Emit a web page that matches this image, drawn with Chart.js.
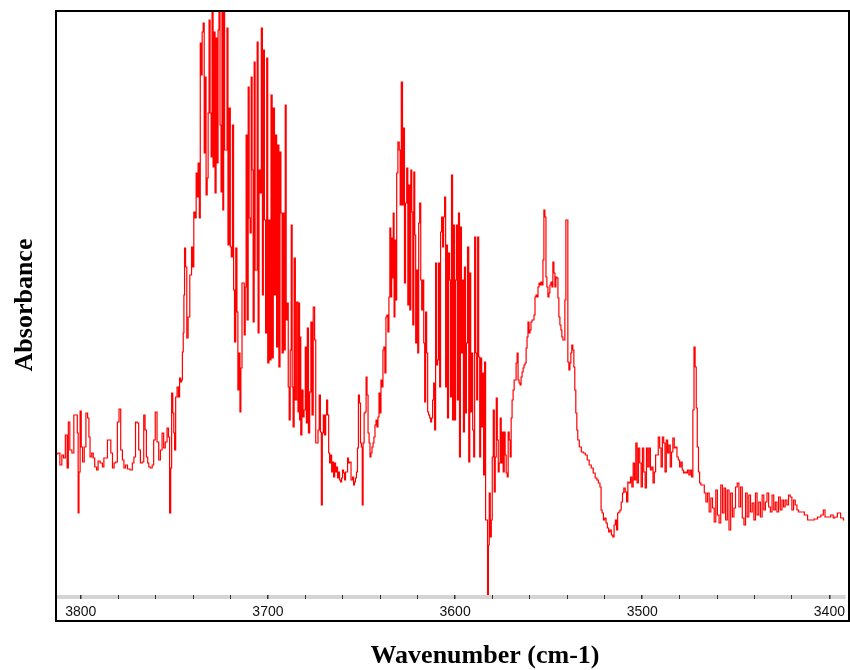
<!DOCTYPE html>
<html>
<head>
<meta charset="utf-8">
<script src="https://cdn.jsdelivr.net/npm/chart.js@4.4.1/dist/chart.umd.min.js"></script>
<style>
  html, body { margin: 0; padding: 0; background: #fff; }
  canvas { display: block; }
</style>
</head>
<body>
<canvas id="spectrum" width="850" height="670"></canvas>
<script>
// wavenumber (cm-1), high to low
const wavenumber = [
  3812.7,3811.7,3810.6,3809.6,3808.8,3807.7,3806.9,3806.4,3805.3,3804.2,
  3803.2,3802.1,3801.6,3801.2,3800.7,3800.0,3799.5,3798.6,3797.7,3796.8,
  3795.9,3795.4,3794.7,3793.6,3793.1,3792.0,3791.1,3790.4,3788.9,3788.0,
  3787.3,3786.2,3785.3,3784.4,3783.5,3782.6,3781.8,3780.9,3780.0,3779.1,
  3778.2,3777.3,3776.6,3775.6,3774.5,3772.9,3772.0,3771.2,3770.3,3769.4,
  3768.7,3767.6,3766.7,3766.0,3765.3,3764.6,3763.9,3763.4,3762.3,3761.4,
  3760.7,3759.7,3758.8,3757.9,3757.0,3756.1,3755.3,3754.4,3753.4,3752.9,
  3752.2,3751.7,3751.2,3750.5,3750.1,3749.6,3749.0,3748.1,3747.5,3746.9,
  3746.4,3745.9,3745.5,3745.0,3744.8,3744.3,3743.7,3743.0,3742.3,3741.2,
  3740.4,3739.9,3739.3,3738.6,3738.1,3737.6,3737.0,3736.3,3736.0,3735.4,
  3734.9,3734.3,3733.8,3733.4,3732.7,3732.2,3731.7,3731.2,3730.6,3730.1,
  3729.6,3729.0,3728.5,3728.0,3727.4,3726.9,3726.4,3725.9,3725.3,3724.8,
  3724.3,3723.9,3723.4,3722.9,3722.1,3721.6,3721.1,3720.4,3719.8,3719.3,
  3718.6,3718.1,3717.6,3716.8,3716.3,3715.8,3715.2,3714.7,3714.2,3713.5,
  3712.9,3712.4,3711.9,3711.4,3710.8,3710.3,3709.8,3709.2,3708.7,3708.2,
  3707.6,3707.1,3706.6,3706.0,3705.5,3705.0,3704.5,3703.9,3703.2,3702.7,
  3702.2,3701.6,3700.9,3700.4,3699.8,3699.1,3698.6,3698.1,3697.4,3696.9,
  3696.1,3695.6,3695.1,3694.5,3693.8,3693.3,3692.8,3692.1,3691.5,3691.0,
  3690.5,3690.0,3689.4,3688.9,3688.4,3687.8,3687.3,3686.8,3686.3,3685.7,
  3685.0,3684.3,3683.6,3683.2,3683.0,3682.7,3682.2,3681.5,3681.0,3680.4,
  3679.7,3679.2,3678.7,3678.0,3677.4,3676.7,3676.2,3675.4,3674.7,3674.2,
  3673.5,3673.0,3672.2,3671.7,3671.2,3670.7,3670.1,3669.4,3668.9,3668.4,
  3667.8,3667.3,3666.8,3666.2,3665.7,3665.2,3664.6,3664.1,3663.6,3663.1,
  3662.5,3662.0,3661.5,3660.9,3660.4,3659.9,3659.3,3658.8,3658.3,3657.7,
  3657.2,3656.7,3656.1,3655.1,3654.5,3654.0,3653.5,3653.0,3652.4,3651.9,
  3651.4,3650.8,3650.3,3649.8,3649.4,3648.9,3648.3,3647.8,3647.3,3646.8,
  3646.2,3645.7,3645.2,3644.7,3644.1,3643.6,3643.1,3642.5,3642.0,3641.5,
  3640.9,3640.4,3639.9,3639.3,3638.8,3638.3,3637.8,3637.2,3636.7,3636.2,
  3635.6,3635.1,3634.6,3634.1,3633.7,3633.3,3632.8,3632.4,3631.9,3631.4,
  3631.0,3630.1,3629.6,3629.1,3628.4,3627.8,3627.3,3626.8,3626.2,3625.5,
  3625.0,3624.5,3623.9,3623.4,3622.9,3622.3,3621.8,3621.3,3620.8,3620.2,
  3619.7,3619.2,3618.6,3618.1,3617.6,3617.0,3616.5,3616.0,3615.5,3614.9,
  3614.4,3613.9,3613.3,3612.8,3612.3,3611.7,3611.2,3610.7,3610.1,3609.6,
  3609.1,3608.5,3608.0,3607.5,3606.9,3606.4,3605.9,3605.3,3604.8,3604.3,
  3603.8,3603.2,3602.7,3602.2,3601.6,3601.1,3600.6,3600.0,3599.5,3599.0,
  3598.5,3597.9,3597.4,3596.9,3596.3,3595.8,3595.3,3594.7,3594.2,3593.7,
  3593.0,3592.4,3591.9,3591.4,3590.9,3590.3,3589.8,3589.3,3588.7,3588.2,
  3587.7,3587.1,3586.6,3586.1,3585.5,3585.0,3584.5,3584.0,3583.4,3582.9,
  3582.4,3582.0,3581.5,3580.9,3580.4,3579.9,3579.3,3578.8,3578.3,3577.7,
  3577.2,3576.7,3576.2,3575.6,3575.1,3574.6,3574.0,3573.5,3573.0,3572.4,
  3571.9,3571.4,3570.8,3570.3,3569.8,3569.3,3568.7,3568.2,3567.7,3567.1,
  3566.6,3566.1,3565.5,3565.0,3564.5,3563.9,3563.4,3562.9,3562.3,3561.8,
  3561.3,3560.8,3560.2,3559.7,3559.2,3558.6,3558.1,3557.6,3557.0,3556.5,
  3556.0,3555.4,3554.9,3554.4,3553.8,3553.3,3552.8,3552.3,3551.7,3551.2,
  3550.7,3550.1,3549.6,3549.1,3548.5,3548.0,3547.5,3546.9,3546.4,3545.9,
  3545.3,3544.8,3544.3,3543.7,3543.2,3542.7,3542.1,3541.6,3541.1,3540.5,
  3540.0,3539.5,3538.9,3538.4,3537.9,3537.4,3536.8,3536.3,3535.8,3535.2,
  3534.7,3534.2,3533.1,3532.0,3531.0,3529.9,3528.9,3527.8,3526.7,3525.7,
  3524.6,3523.9,3523.0,3522.2,3521.8,3521.1,3520.4,3519.7,3519.0,3518.3,
  3517.6,3516.9,3516.1,3515.4,3514.7,3514.0,3513.4,3512.9,3512.2,3511.6,
  3510.9,3510.2,3509.5,3508.7,3508.0,3507.4,3506.6,3505.9,3505.2,3504.5,
  3503.8,3503.1,3502.4,3501.7,3501.0,3500.2,3499.6,3498.8,3498.1,3497.4,
  3496.7,3496.0,3495.3,3494.6,3493.9,3493.2,3492.5,3491.8,3491.1,3490.3,
  3489.6,3488.9,3488.2,3487.5,3486.8,3486.1,3485.4,3484.7,3484.0,3483.3,
  3482.5,3481.8,3481.1,3480.4,3479.7,3479.0,3478.3,3477.6,3476.9,3476.2,
  3475.5,3474.7,3474.0,3473.3,3472.6,3472.1,3471.4,3470.9,3470.3,3469.6,
  3469.1,3468.2,3467.3,3466.4,3465.6,3464.7,3463.8,3462.9,3462.0,3461.1,
  3460.3,3459.4,3458.5,3457.6,3456.7,3455.9,3455.0,3454.1,3453.2,3452.3,
  3451.4,3450.6,3449.7,3448.8,3447.9,3447.0,3446.1,3445.2,3444.4,3443.5,
  3442.6,3441.7,3440.8,3439.9,3439.1,3438.2,3437.3,3436.4,3435.5,3434.6,
  3433.8,3432.9,3432.0,3431.1,3430.2,3429.3,3428.5,3427.6,3426.7,3425.8,
  3424.9,3424.1,3423.2,3422.3,3421.4,3420.5,3419.6,3418.7,3417.8,3416.9,
  3416.1,3414.3,3412.5,3410.8,3409.0,3407.2,3405.5,3403.7,3402.8,3401.9,
  3400.2,3398.4,3397.5,3396.6,3394.9,3393.1,3391.9
];

// absorbance, same order as wavenumber
const absorbance = [
  .141,.142,.130,.140,.137,.160,.127,.173,.145,.142,
  .180,.180,.162,.082,.123,.184,.148,.133,.148,.182,
  .177,.158,.138,.142,.137,.128,.125,.134,.132,.128,
  .137,.137,.155,.155,.142,.127,.132,.133,.173,.186,
  .145,.135,.127,.130,.126,.125,.132,.138,.173,.172,
  .145,.132,.133,.180,.165,.138,.132,.128,.127,.130,
  .155,.183,.153,.135,.145,.162,.147,.153,.167,.158,
  .082,.127,.202,.182,.162,.145,.198,.208,.198,.217,
  .213,.215,.243,.262,.300,.347,.328,.257,.278,.320,
  .348,.328,.383,.377,.422,.398,.432,.377,.552,.520,
  .563,.572,.442,.518,.400,.417,.482,.575,.482,.438,
  .610,.428,.563,.402,.557,.432,.565,.610,.470,.403,
  .620,.385,.620,.445,.445,.567,.350,.487,.348,.338,
  .470,.305,.253,.347,.283,.205,.242,.183,.227,.312,
  .312,.260,.308,.460,.275,.508,.377,.362,.518,.425,
  .273,.533,.325,.325,.553,.262,.425,.402,.567,.300,
  .545,.375,.262,.537,.232,.375,.235,.500,.237,.487,
  .300,.460,.248,.450,.228,.443,.382,.242,.382,.245,
  .490,.275,.292,.208,.175,.245,.370,.208,.168,.337,
  .195,.293,.183,.292,.175,.258,.160,.205,.178,.185,
  .248,.172,.267,.162,.203,.273,.180,.288,.255,.152,
  .152,.165,.200,.163,.090,.162,.180,.160,.180,.195,
  .180,.142,.132,.140,.123,.133,.118,.132,.123,.128,
  .117,.123,.115,.113,.117,.125,.122,.115,.123,.123,
  .137,.132,.133,.115,.118,.110,.113,.117,.123,.147,
  .200,.192,.152,.148,.090,.152,.182,.183,.218,.200,
  .162,.152,.138,.142,.148,.152,.158,.170,.175,.168,
  .178,.202,.182,.215,.208,.245,.248,.222,.278,.280,
  .263,.298,.367,.298,.357,.317,.382,.278,.355,.295,
  .422,.453,.445,.390,.513,.390,.467,.312,.392,.427,
  .290,.410,.285,.425,.383,.270,.423,.360,.252,.325,
  .242,.372,.392,.315,.285,.315,.252,.193,.283,.242,
  .183,.180,.177,.173,.177,.195,.212,.165,.332,.230,
  .235,.332,.208,.363,.378,.348,.378,.398,.208,.350,
  .177,.342,.315,.198,.420,.175,.370,.175,.315,.370,
  .195,.382,.138,.368,.242,.315,.163,.328,.182,.252,
  .348,.133,.322,.183,.242,.165,.138,.358,.242,.195,
  .358,.238,.138,.237,.168,.222,.120,.233,.075,.075,
  .000,.050,.102,.058,.075,.138,.185,.103,.138,.197,
  .155,.123,.132,.177,.132,.163,.123,.163,.140,.122,
  .118,.163,.155,.138,.177,.195,.205,.215,.215,.232,
  .242,.215,.212,.210,.218,.223,.227,.230,.232,.247,
  .258,.273,.262,.265,.273,.275,.275,.280,.298,.300,
  .298,.308,.312,.310,.313,.310,.335,.385,.378,.318,
  .308,.298,.302,.310,.313,.308,.333,.322,.308,.318,
  .317,.297,.278,.270,.265,.258,.255,.255,.295,.375,
  .375,.233,.225,.232,.242,.250,.245,.228,.205,.182,
  .165,.155,.148,.143,.142,.140,.135,.130,.127,.122,
  .117,.115,.112,.108,.085,.082,.075,.077,.072,.067,
  .063,.065,.060,.058,.070,.075,.065,.082,.083,.085,
  .093,.102,.107,.103,.093,.113,.112,.118,.108,.132,
  .115,.152,.112,.147,.132,.108,.147,.123,.107,.147,
  .128,.147,.125,.128,.112,.123,.140,.140,.158,.147,
  .128,.158,.152,.123,.155,.142,.150,.128,.143,.157,
  .147,.148,.138,.135,.128,.133,.125,.122,.123,.122,
  .125,.120,.125,.118,.185,.248,.228,.187,.148,.123,
  .112,.110,.110,.102,.093,.102,.083,.097,.087,.073,
  .105,.080,.072,.110,.082,.107,.075,.105,.065,.102,
  .078,.087,.108,.112,.088,.108,.077,.070,.102,.078,
  .100,.083,.092,.075,.102,.080,.093,.078,.100,.085,
  .093,.102,.088,.083,.100,.085,.093,.083,.098,.085,
  .095,.088,.095,.090,.100,.098,.085,.095,.090,.085,
  .083,.083,.080,.075,.075,.076,.078,.080,.085,.078,
  .078,.080,.077,.078,.082,.077,.075
];

const xRange = [3391.9, 3812.7];
const yRange = [0, 0.583];
const xTitle = 'Wavenumber (cm-1)';
const yTitle = 'Absorbance';

const points = wavenumber.map((x, i) => ({ x: x, y: absorbance[i] }));

// frame, grey axis strip and the two bold axis titles
const framePlugin = {
  id: 'frame',
  beforeDraw(chart) {
    const ctx = chart.ctx;
    const a = chart.chartArea;
    ctx.save();
    ctx.fillStyle = '#d4d4d4';
    ctx.fillRect(a.left - 1, a.bottom, a.right - a.left + 2, 4);
    ctx.restore();
  },
  afterDraw(chart) {
    const ctx = chart.ctx;
    ctx.save();
    ctx.strokeStyle = '#000';
    ctx.lineWidth = 2;
    ctx.strokeRect(56, 11, 793, 610);

    ctx.fillStyle = '#000';
    ctx.font = 'bold 26px "Liberation Serif", "Times New Roman", serif';
    ctx.textAlign = 'center';
    ctx.textBaseline = 'alphabetic';
    ctx.fillText(xTitle, 485, 663);

    ctx.translate(32, 305);
    ctx.rotate(-Math.PI / 2);
    ctx.fillText(yTitle, 0, 0);
    ctx.restore();
  }
};

new Chart(document.getElementById('spectrum'), {
  type: 'line',
  data: {
    datasets: [{
      data: points,
      borderColor: '#ff0000',
      borderWidth: 1.2,
      pointRadius: 0,
      stepped: 'middle',
      fill: false
    }]
  },
  options: {
    responsive: false,
    animation: false,
    devicePixelRatio: 1,
    parsing: false,
    layout: { padding: { left: 57, right: 1, top: 12, bottom: 0 } },
    plugins: {
      legend: { display: false },
      tooltip: { enabled: false }
    },
    scales: {
      x: {
        type: 'linear',
        reverse: true,
        min: xRange[0],
        max: xRange[1],
        afterFit(scale) { scale.height = 75; },
        border: { display: false },
        grid: {
          drawOnChartArea: false,
          drawTicks: true,
          tickLength: 4,
          color: '#333',
          lineWidth: (c) => (c.tick && c.tick.value % 100 === 0 ? 1.5 : 1)
        },
        ticks: {
          stepSize: 20,
          includeBounds: false,
          autoSkip: false,
          maxRotation: 0,
          padding: 5,
          color: '#111',
          font: { family: '"Liberation Sans", Arial, sans-serif', size: 14 },
          callback: (v) => (v % 100 === 0 ? String(v) : '')
        }
      },
      y: {
        display: false,
        min: yRange[0],
        max: yRange[1]
      }
    }
  },
  plugins: [framePlugin]
});
</script>
</body>
</html>
